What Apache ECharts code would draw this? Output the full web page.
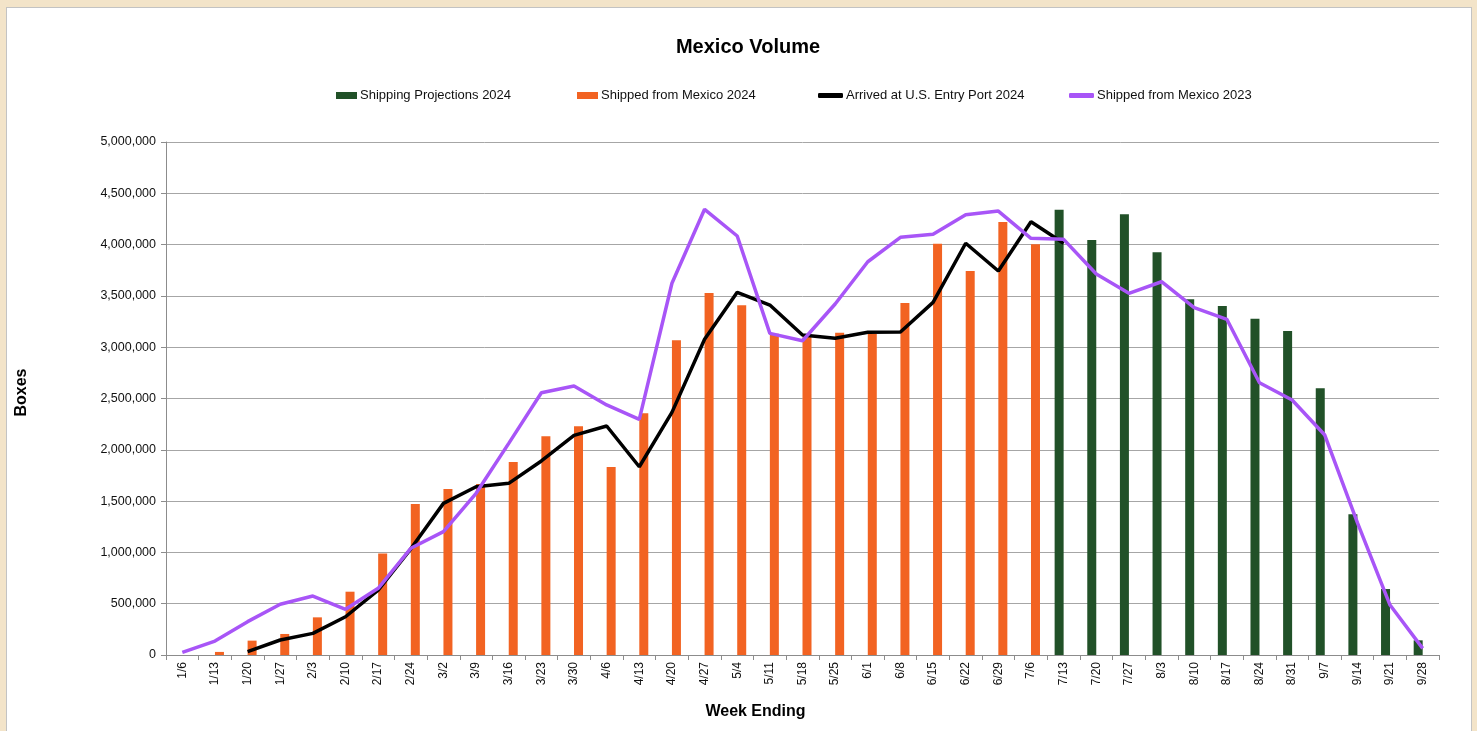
<!DOCTYPE html>
<html>
<head>
<meta charset="utf-8">
<script src="https://cdn.jsdelivr.net/npm/echarts@6/dist/echarts.min.js"></script>
<style>
  html, body { margin: 0; padding: 0; background: #f3e4c9; overflow: hidden; }
  .frame { position: absolute; left: 6px; top: 7px; width: 1464px; height: 740px; background: #fff; border: 1px solid #c3c3c3; }
  #chart { position: absolute; left: 0; top: 0; width: 1477px; height: 731px; }
</style>
</head>
<body>
<div class="frame"></div>
<div id="chart"></div>
<script>
const weeks = ['1/6', '1/13', '1/20', '1/27', '2/3', '2/10', '2/17', '2/24', '3/2', '3/9',
  '3/16', '3/23', '3/30', '4/6', '4/13', '4/20', '4/27', '5/4', '5/11', '5/18',
  '5/25', '6/1', '6/8', '6/15', '6/22', '6/29', '7/6', '7/13', '7/20', '7/27',
  '8/3', '8/10', '8/17', '8/24', '8/31', '9/7', '9/14', '9/21', '9/28'];

const projections2024 = [null, null, null, null, null, null, null, null, null, null,
  null, null, null, null, null, null, null, null, null, null,
  null, null, null, null, null, null, null, 4340000, 4045000, 4295000,
  3925000, 3467000, 3402000, 3278000, 3158000, 2599000, 1371000, 643000, 143000];

const shipped2024 = [null, 30000, 140000, 205000, 367000, 617000, 990000, 1472000, 1618000, 1667000,
  1881000, 2132000, 2229000, 1832000, 2356000, 3067000, 3528000, 3408000, 3130000, 3105000,
  3141000, 3129000, 3431000, 4009000, 3743000, 4220000, 4003000, null, null, null,
  null, null, null, null, null, null, null, null, null];

const arrived2024 = [null, null, 32000, 146000, 211000, 373000, 633000, 1035000, 1478000, 1640000,
  1673000, 1891000, 2141000, 2232000, 1835000, 2365000, 3077000, 3535000, 3411000, 3119000,
  3087000, 3145000, 3148000, 3437000, 4013000, 3743000, 4223000, 4013000, null, null,
  null, null, null, null, null, null, null, null, null];

const shipped2023 = [26000, 136000, 325000, 494000, 575000, 445000, 650000, 1040000, 1202000, 1576000,
  2063000, 2556000, 2622000, 2437000, 2297000, 3623000, 4344000, 4084000, 3135000, 3063000,
  3421000, 3833000, 4071000, 4100000, 4291000, 4327000, 4061000, 4051000, 3713000, 3525000,
  3638000, 3385000, 3272000, 2654000, 2485000, 2144000, 1290000, 487000, 65000];

const FONT = '"Liberation Sans", Arial, sans-serif';
const GREEN = '#215128';
const ORANGE = '#f26322';
const PURPLE = '#a855f7';

function legendItem(name, left, isLine) {
  return {
    data: [name],
    left: left,
    top: 84,
    itemWidth: isLine ? 25 : 21,
    itemHeight: isLine ? 5 : 7,
    itemGap: 0,
    icon: isLine ? 'roundRect' : 'rect',
    textStyle: { fontFamily: FONT, fontSize: 13, color: '#111', padding: [0, 0, 0, -2] },
    selectedMode: false
  };
}

const chart = echarts.init(document.getElementById('chart'), null, { renderer: 'canvas' });
chart.setOption({
  animation: false,
  title: {
    text: 'Mexico Volume',
    left: 743,
    textAlign: 'center',
    top: 32,
    textStyle: { fontFamily: FONT, fontSize: 20, fontWeight: 'bold', color: '#000' }
  },
  legend: [
    legendItem('Shipping Projections 2024', 331, false),
    legendItem('Shipped from Mexico 2024', 572, false),
    legendItem('Arrived at U.S. Entry Port 2024', 813, true),
    legendItem('Shipped from Mexico 2023', 1064, true)
  ],
  grid: { left: 166, right: 38, top: 142, bottom: 76, outerBoundsMode: 'none', containLabel: false },
  xAxis: {
    type: 'category',
    data: weeks,
    name: 'Week Ending',
    nameLocation: 'middle',
    nameGap: 49,
    nameTextStyle: { fontFamily: FONT, fontSize: 16, fontWeight: 'bold', color: '#000', padding: [0, 94, 0, 0] },
    axisLine: { lineStyle: { color: '#8c8c8c', width: 1 } },
    axisTick: { show: true, alignWithLabel: false, length: 5, lineStyle: { color: '#8c8c8c' } },
    axisLabel: { rotate: 90, interval: 0, fontFamily: FONT, fontSize: 12, color: '#111', margin: 7 }
  },
  yAxis: {
    type: 'value',
    min: 0,
    max: 5000000,
    interval: 500000,
    name: 'Boxes',
    nameLocation: 'middle',
    nameGap: 136,
    nameTextStyle: { fontFamily: FONT, fontSize: 16, fontWeight: 'bold', color: '#000', padding: [0, 0, 0, 12] },
    axisLine: { show: true, lineStyle: { color: '#8c8c8c', width: 1 } },
    axisTick: { show: true, length: 5, lineStyle: { color: '#8c8c8c' } },
    axisLabel: {
      fontFamily: FONT, fontSize: 12.5, color: '#111', margin: 10,
      formatter: v => v.toLocaleString('en-US')
    },
    splitLine: { lineStyle: { color: '#a6a6a6', width: 1 } }
  },
  series: [
    {
      name: 'Shipping Projections 2024',
      type: 'bar',
      data: projections2024,
      barWidth: 9,
      barGap: '0%',
      itemStyle: { color: GREEN }
    },
    {
      name: 'Shipped from Mexico 2024',
      type: 'bar',
      data: shipped2024,
      barWidth: 9,
      barGap: '0%',
      itemStyle: { color: ORANGE }
    },
    {
      name: 'Arrived at U.S. Entry Port 2024',
      type: 'line',
      data: arrived2024,
      symbol: 'none',
      lineStyle: { color: '#000', width: 3.5 },
      itemStyle: { color: '#000' }
    },
    {
      name: 'Shipped from Mexico 2023',
      type: 'line',
      data: shipped2023,
      symbol: 'none',
      lineStyle: { color: PURPLE, width: 3.5 },
      itemStyle: { color: PURPLE }
    }
  ]
});
</script>
</body>
</html>
